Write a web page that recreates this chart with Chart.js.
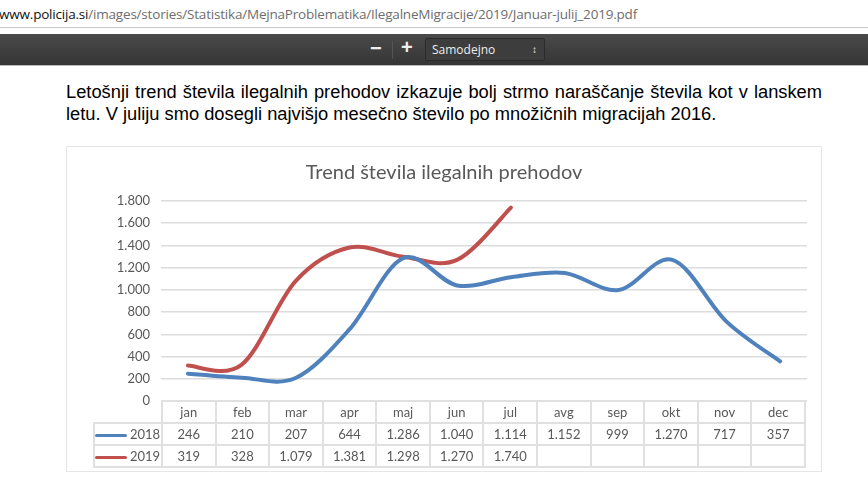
<!DOCTYPE html>
<html lang="sl">
<head>
<meta charset="utf-8">
<title>Trend števila ilegalnih prehodov</title>
<script src="https://cdn.jsdelivr.net/npm/chart.js@4/dist/chart.umd.min.js"></script>
<style>
    html, body { margin: 0; padding: 0; background: #fff; width: 868px; height: 500px; overflow: hidden; }
    .url { position: absolute; left: -1px; top: 5px; font: 13.5px "Open Sans", sans-serif; color: #6e6e6e; letter-spacing: -0.2px; white-space: nowrap; }
    .url b { font-weight: 400; color: #111; }
    .urlLine { position: absolute; left: 0; top: 27px; width: 868px; height: 1px; background: #c8c8c8; }
    .toolbar { position: absolute; left: 0; top: 34px; width: 868px; height: 32px; background: linear-gradient(#4a4a4a, #353535); border-bottom: 1px solid #bbb; box-sizing: border-box; }
    .toolbar span { position: absolute; color: #eee; }
    .select { position: absolute; left: 425px; top: 4px; width: 120px; height: 23px; background: #3d3d3d; border: 1px solid #2b2b2b; border-radius: 2px; box-sizing: border-box; color: #eee; font: 12px "Open Sans", sans-serif; line-height: 21px; padding-left: 6px; }
    .para { position: absolute; left: 66px; top: 81px; width: 756px; font: 18.3px/21.5px "Liberation Sans", sans-serif; color: #000; text-align: justify; }
    .card { position: absolute; left: 66px; top: 146px; width: 756px; height: 326px; border: 1px solid #e6e6e6; box-sizing: border-box; }
    #trendChart { position: absolute; left: 66px; top: 146px; }
    table.data { position: absolute; left: 93px; top: 400px; border-collapse: collapse; table-layout: fixed; width: 713px; font: 13px Lato, sans-serif; color: #595959; }
    table.data td { border: 2px solid #e0e0e0; height: 20px; padding: 0; text-align: center; }
    table.data td.blank { border: none; border-right: 2px solid #e0e0e0; border-bottom: 2px solid #e0e0e0; }
    table.data td.key { text-align: right; padding-right: 3px; white-space: nowrap; }
    .swatch { display: inline-block; width: 32px; height: 3px; border-radius: 2px; vertical-align: middle; margin-right: 3px; }
</style>
</head>
<body>
<div class="url"><b>www.policija.si</b>/images/stories/Statistika/MejnaProblematika/IlegalneMigracije/2019/Januar-julij_2019.pdf</div>
<div class="urlLine"></div>
<div class="toolbar">
    <span style="left:370px;top:3px;font:bold 20px 'Liberation Sans'">−</span>
    <span style="left:392px;top:7px;width:1px;height:18px;background:#555"></span>
    <span style="left:401px;top:2px;font:bold 20px 'Liberation Sans'">+</span>
    <div class="select">Samodejno<span style="left:106px;top:0;font-size:10px;line-height:21px">↕</span></div>
</div>
<div class="para">Letošnji trend števila ilegalnih prehodov izkazuje bolj strmo naraščanje števila kot v lanskem letu. V juliju smo dosegli najvišjo mesečno število po množičnih migracijah 2016.</div>
<div class="card"></div>
<canvas id="trendChart" width="756" height="326"></canvas>
<table class="data" id="dataTable"></table>

<script>
const months = ['jan', 'feb', 'mar', 'apr', 'maj', 'jun', 'jul', 'avg', 'sep', 'okt', 'nov', 'dec'];

const series = [
    { label: '2018', color: '#4f81bd', values: [246, 210, 207, 644, 1286, 1040, 1114, 1152, 999, 1270, 717, 357] },
    { label: '2019', color: '#c0504d', values: [319, 328, 1079, 1381, 1298, 1270, 1740, null, null, null, null, null] },
];

// thousands with a dot, as in the source table
function formatNumber(value) {
    return String(value).replace(/\B(?=(\d{3})+$)/g, '.');
}

// Excel style smoothing: plain Catmull-Rom control points on the library's own points
const excelSmooth = {
    id: 'excelSmooth',
    beforeDatasetsDraw(chart) {
        chart.data.datasets.forEach((ds, i) => {
            const meta = chart.getDatasetMeta(i);
            meta.dataset.updateControlPoints(chart.chartArea);
            const pts = meta.data.filter(p => !p.skip);
            pts.forEach((p, j) => {
                const prev = pts[j - 1] || p;
                const next = pts[j + 1] || p;
                p.cp1x = p.x - (next.x - prev.x) / 6;
                p.cp1y = p.y - (next.y - prev.y) / 6;
                p.cp2x = p.x + (next.x - prev.x) / 6;
                p.cp2y = p.y + (next.y - prev.y) / 6;
            });
        });
    }
};

new Chart(document.getElementById('trendChart'), {
    type: 'line',
    data: {
        labels: months,
        datasets: series.map(s => ({
            label: s.label,
            data: s.values,
            borderColor: s.color,
            backgroundColor: s.color,
            borderWidth: 4,
            pointRadius: 0,
            tension: 0.4,
            spanGaps: false,
            borderCapStyle: 'round',
        }))
    },
    plugins: [excelSmooth],
    options: {
        responsive: false,
        animation: false,
        layout: { padding: { top: 0, right: 15, bottom: 71, left: 15 } },
        plugins: {
            legend: { display: false },
            tooltip: { enabled: false },
            title: {
                display: true,
                text: 'Trend števila ilegalnih prehodov',
                color: '#595959',
                font: { family: 'Lato', size: 20, weight: 'normal' },
                padding: { top: 15, bottom: 16 },
            },
        },
        scales: {
            x: {
                offset: true,
                display: false,
                grid: { display: false },
            },
            y: {
                min: 0,
                max: 1800,
                afterFit: (scale) => { scale.width = 80; },
                border: { display: false },
                grid: { color: '#dcdcdc', lineWidth: 1.5, drawTicks: false },
                ticks: {
                    stepSize: 200,
                    color: '#595959',
                    padding: 11,
                    font: { family: 'Lato', size: 13 },
                    callback: (value) => formatNumber(value),
                },
            },
        },
    },
});

// data table under the plot, built from the same series
const rows = ['<colgroup><col style="width:68px">' + months.map(() => '<col>').join('') + '</colgroup>'];
rows.push('<tr><td class="blank"></td>' + months.map(m => `<td>${m}</td>`).join('') + '</tr>');
series.forEach(s => {
    const cells = s.values.map(v => `<td>${v === null ? '' : formatNumber(v)}</td>`).join('');
    rows.push(`<tr><td class="key"><span class="swatch" style="background:${s.color}"></span>${s.label}</td>${cells}</tr>`);
});
document.getElementById('dataTable').innerHTML = rows.join('');
</script>
</body>
</html>
